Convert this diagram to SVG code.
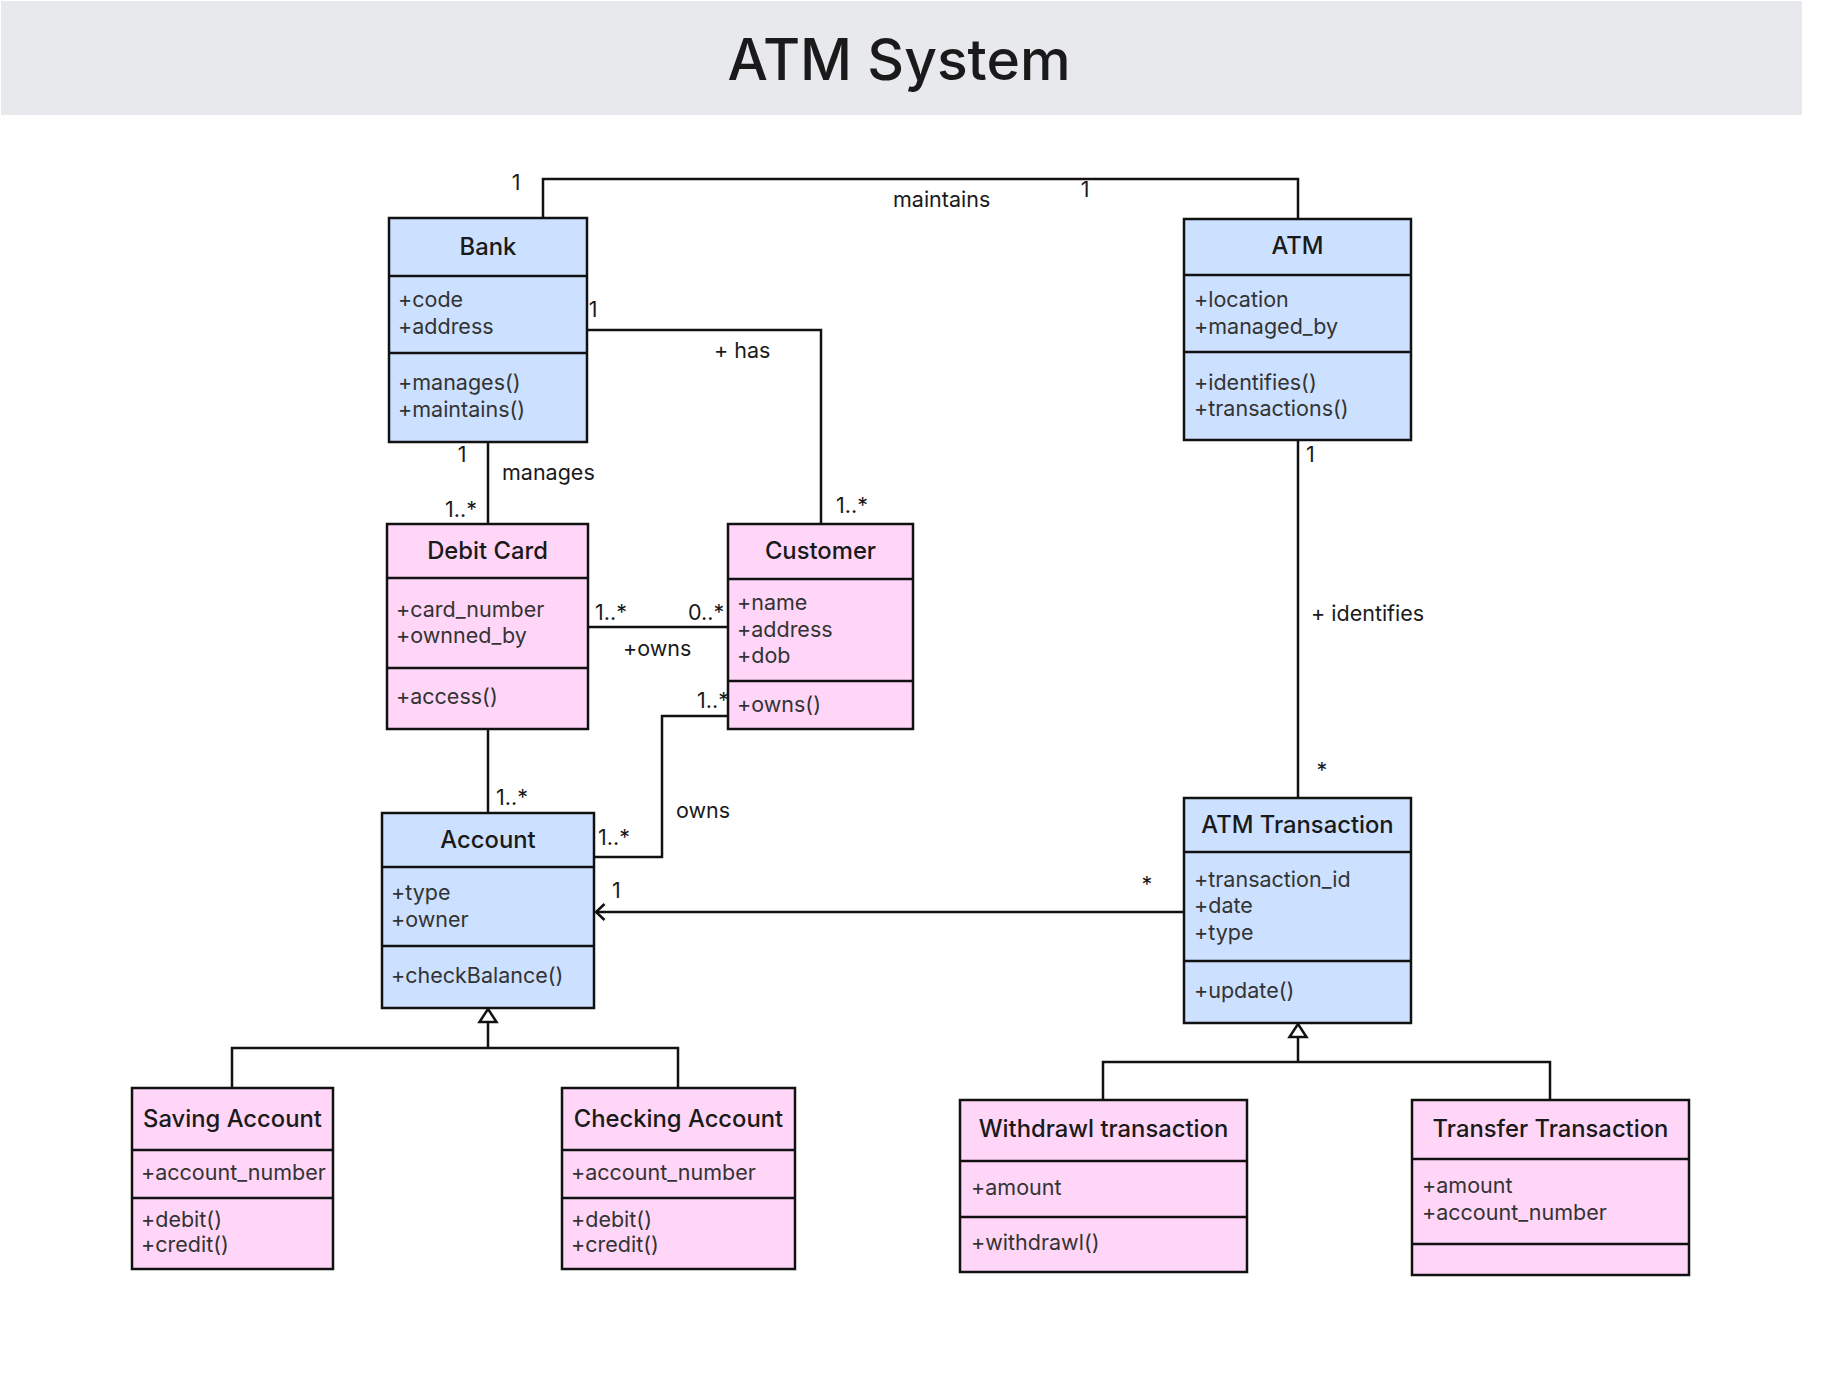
<svg xmlns="http://www.w3.org/2000/svg" width="1835" height="1381" viewBox="0 0 1835 1381">
<defs>
<style>
.blue{fill:#cce0ff;stroke:#111;stroke-width:2.5}
.pink{fill:#ffd6f7;stroke:#111;stroke-width:2.5}
.div{stroke:#111;stroke-width:2.5}
.t{font-family:Inter,"Liberation Sans",sans-serif;font-size:23.8px;font-weight:500;fill:#1a1a1a;text-anchor:middle}
.a{font-family:Inter,"Liberation Sans",sans-serif;font-size:21.5px;fill:#333}
.l{font-family:Inter,"Liberation Sans",sans-serif;font-size:21.5px;fill:#1a1a1a}
.c{fill:none;stroke:#111;stroke-width:2.5}
.m{text-anchor:middle}
</style>
<marker id="open" viewBox="0 0 12 20" refX="10.5" refY="10" markerWidth="12" markerHeight="20" markerUnits="userSpaceOnUse" orient="auto">
<path d="M2,2 L10.5,10 L2,18" fill="none" stroke="#111" stroke-width="2.5"/>
</marker>
</defs>
<rect x="1" y="1" width="1801" height="114" fill="#e8e9ed"/>
<text x="899" y="80" font-family="Inter,'Liberation Sans',sans-serif" font-size="57" font-weight="500" fill="#1a1a1a" text-anchor="middle">ATM System</text>

<g id="bank">
<rect class="blue" x="389" y="218" width="198" height="224"/>
<path class="div" d="M389,276 H587 M389,353 H587"/>
<text class="t" x="488" y="255">Bank</text>
<text class="a" x="398" y="307">+code</text>
<text class="a" x="398" y="334">+address</text>
<text class="a" x="398" y="390">+manages()</text>
<text class="a" x="398" y="417">+maintains()</text>
</g>

<g id="atm">
<rect class="blue" x="1184" y="219" width="227" height="221"/>
<path class="div" d="M1184,275 H1411 M1184,352 H1411"/>
<text class="t" x="1297.5" y="254">ATM</text>
<text class="a" x="1194" y="307">+location</text>
<text class="a" x="1194" y="334">+managed_by</text>
<text class="a" x="1194" y="390">+identifies()</text>
<text class="a" x="1194" y="416">+transactions()</text>
</g>

<g id="debit-card">
<rect class="pink" x="387" y="524" width="201" height="205"/>
<path class="div" d="M387,578 H588 M387,668 H588"/>
<text class="t" x="487.5" y="559">Debit Card</text>
<text class="a" x="396" y="617">+card_number</text>
<text class="a" x="396" y="643">+ownned_by</text>
<text class="a" x="396" y="704">+access()</text>
</g>

<g id="customer">
<rect class="pink" x="728" y="524" width="185" height="205"/>
<path class="div" d="M728,579 H913 M728,681 H913"/>
<text class="t" x="820.5" y="559">Customer</text>
<text class="a" x="737" y="610">+name</text>
<text class="a" x="737" y="637">+address</text>
<text class="a" x="737" y="663">+dob</text>
<text class="a" x="737" y="712">+owns()</text>
</g>

<g id="account">
<rect class="blue" x="382" y="813" width="212" height="195"/>
<path class="div" d="M382,867 H594 M382,946 H594"/>
<text class="t" x="488" y="848">Account</text>
<text class="a" x="391" y="900">+type</text>
<text class="a" x="391" y="927">+owner</text>
<text class="a" x="391" y="983">+checkBalance()</text>
</g>

<g id="atm-transaction">
<rect class="blue" x="1184" y="798" width="227" height="225"/>
<path class="div" d="M1184,852 H1411 M1184,961 H1411"/>
<text class="t" x="1297.5" y="833">ATM Transaction</text>
<text class="a" x="1194" y="887">+transaction_id</text>
<text class="a" x="1194" y="913">+date</text>
<text class="a" x="1194" y="940">+type</text>
<text class="a" x="1194" y="998">+update()</text>
</g>

<g id="saving-account">
<rect class="pink" x="132" y="1088" width="201" height="181"/>
<path class="div" d="M132,1150 H333 M132,1198 H333"/>
<text class="t" x="232.5" y="1127">Saving Account</text>
<text class="a" x="141" y="1180">+account_number</text>
<text class="a" x="141" y="1227">+debit()</text>
<text class="a" x="141" y="1252">+credit()</text>
</g>

<g id="checking-account">
<rect class="pink" x="562" y="1088" width="233" height="181"/>
<path class="div" d="M562,1150 H795 M562,1198 H795"/>
<text class="t" x="678.5" y="1127">Checking Account</text>
<text class="a" x="571" y="1180">+account_number</text>
<text class="a" x="571" y="1227">+debit()</text>
<text class="a" x="571" y="1252">+credit()</text>
</g>

<g id="withdrawl-transaction">
<rect class="pink" x="960" y="1100" width="287" height="172"/>
<path class="div" d="M960,1161 H1247 M960,1217 H1247"/>
<text class="t" x="1103.5" y="1137">Withdrawl transaction</text>
<text class="a" x="971" y="1195">+amount</text>
<text class="a" x="971" y="1250">+withdrawl()</text>
</g>

<g id="transfer-transaction">
<rect class="pink" x="1412" y="1100" width="277" height="175"/>
<path class="div" d="M1412,1159 H1689 M1412,1244 H1689"/>
<text class="t" x="1550.5" y="1137">Transfer Transaction</text>
<text class="a" x="1422" y="1193">+amount</text>
<text class="a" x="1422" y="1220">+account_number</text>
</g>

<g id="connectors">
<path class="c" d="M543,218 V179 H1298 V219"/>
<path class="c" d="M587,330 H821 V524"/>
<path class="c" d="M488,442 V524"/>
<path class="c" d="M588,627 H728"/>
<path class="c" d="M488,729 V813"/>
<path class="c" d="M728,716 H662 V857 H594"/>
<path class="c" d="M1298,440 V798"/>
<path class="c" d="M1184,912 H596" marker-end="url(#open)"/>
<path class="c" d="M488,1022 V1048 M232,1088 V1048 H678 V1088"/>
<path d="M488,1009 L496.5,1022 L479.5,1022 Z" fill="#fff" stroke="#111" stroke-width="2.5"/>
<path class="c" d="M1298,1037 V1062 M1103,1100 V1062 H1550 V1100"/>
<path d="M1298,1024 L1306.5,1037 L1289.5,1037 Z" fill="#fff" stroke="#111" stroke-width="2.5"/>
<text class="l m" x="516" y="190">1</text>
<text class="l" x="893" y="207">maintains</text>
<text class="l m" x="1085" y="197">1</text>
<text class="l m" x="593" y="317">1</text>
<text class="l" x="714" y="358">+ has</text>
<text class="l m" x="462" y="462">1</text>
<text class="l" x="502" y="480">manages</text>
<text class="l" x="445" y="517">1..*</text>
<text class="l" x="836" y="513">1..*</text>
<text class="l" x="595" y="620">1..*</text>
<text class="l" x="688" y="620">0..*</text>
<text class="l" x="623" y="656">+owns</text>
<text class="l" x="697" y="708">1..*</text>
<text class="l" x="676" y="818">owns</text>
<text class="l" x="496" y="805">1..*</text>
<text class="l" x="598" y="845">1..*</text>
<text class="l" x="612" y="898">1</text>
<text class="l m" x="1147" y="892">*</text>
<text class="l" x="1306" y="462">1</text>
<text class="l" x="1311" y="621">+ identifies</text>
<text class="l m" x="1322" y="778">*</text>
</g>
</svg>
